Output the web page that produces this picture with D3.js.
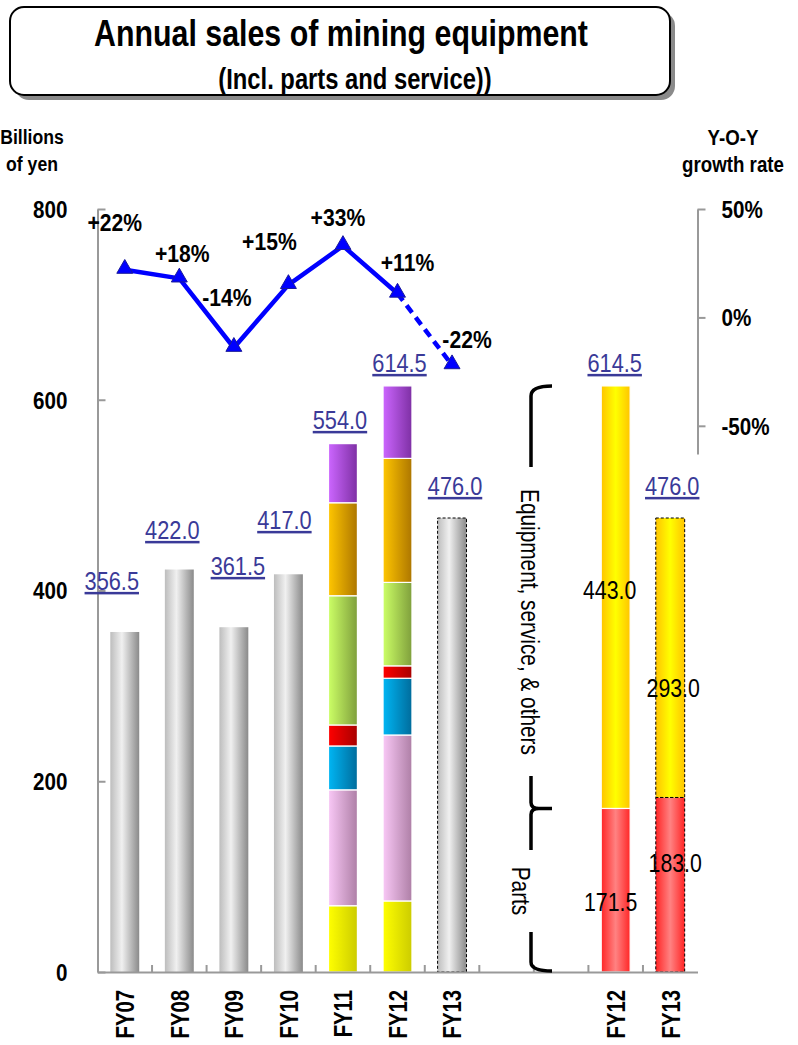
<!DOCTYPE html>
<html>
<head>
<meta charset="utf-8">
<script src="https://cdn.jsdelivr.net/npm/d3@7"></script>
<style>
  html, body { margin: 0; padding: 0; background: #fff; }
  svg { display: block; }
</style>
</head>
<body>
<svg id="chart" width="798" height="1045"></svg>
<script>
// ---------------- DATA ----------------
const categories   = ["FY07", "FY08", "FY09", "FY10", "FY11", "FY12", "FY13", "", "", "FY12", "FY13"];
const totalSales   = [356.5, 422.0, 361.5, 417.0, 554.0, 614.5, 476.0];          // FY07..FY13
const growthRate   = [22, 18, -14, 15, 33, 11, -22];                              // % Y-O-Y
const growthLabels = ["+22%", "+18%", "-14%", "+15%", "+33%", "+11%", "-22%"];
const fy11Segments = [69.5, 121.5, 46.0, 22.0, 135.5, 97.5, 62.0];                // bottom -> top
const fy12Segments = [74.5, 174.0, 59.5, 13.0, 87.5, 130.0, 76.0];
const rightYears   = ["FY12", "FY13"];
const partsSales   = [171.5, 183.0];
const equipSales   = [443.0, 293.0];
const rightTotals  = [614.5, 476.0];
const leftTicks    = [0, 200, 400, 600, 800];
const rightTicks   = [-50, 0, 50];

// ---------------- LAYOUT / STYLE ----------------
const FONT = "'Liberation Sans', Arial, Helvetica, sans-serif";
const segColors = [
  ["#ffff00", "#cccc00"], ["#f9c8f6", "#ae7fa6"], ["#00b6f4", "#006c9c"],
  ["#ff0000", "#a80000"], ["#ccff66", "#7f9f3c"], ["#ffc600", "#ad7600"],
  ["#cc66ff", "#7e30a4"]
];
// label offsets (layout only): [dx, dy] from the anchor mark
const growthOffsets = [[-10, -47], [3, -24], [-7, -50], [-19, -43], [-5, -28], [10, -31], [15, -25]];
const totalLabelY   = [581, 530, 566, 520, 420, 363, 486];
const totalLabelDx  = [-13, -7, 4, -4, -3, 2, 3];

const svg = d3.select("#chart");
const defs = svg.append("defs");

function grad(id, stops) {
  const g = defs.append("linearGradient").attr("id", id)
    .attr("x1", 0).attr("x2", 1).attr("y1", 0).attr("y2", 0);
  stops.forEach(([o, c]) => g.append("stop").attr("offset", o).attr("stop-color", c));
}
grad("gGray", [[0, "#bdbdbd"], [0.4, "#f0f0f0"], [1, "#8a8a8a"]]);
segColors.forEach((c, i) => grad("gSeg" + i, [[0, c[0]], [1, c[1]]]));
grad("gParts", [[0, "#ff2626"], [0.5, "#ff8282"], [1, "#ff2626"]]);
grad("gEquip", [[0, "#ffc400"], [0.5, "#ffff00"], [1, "#ffc400"]]);

function label(g, x, y, text, o = {}) {
  const t = g.append("text")
    .attr("transform", `translate(${x},${y}) rotate(${o.rotate || 0}) scale(${o.sx || 0.85},1)`)
    .attr("text-anchor", o.anchor || "middle")
    .attr("dy", o.dy || "0.35em")
    .style("font-family", FONT)
    .style("font-size", (o.size || 24) + "px")
    .style("font-weight", o.weight || "bold")
    .style("fill", o.fill || "#000")
    .text(text);
  if (o.underline) t.style("text-decoration", "underline");
  return t;
}

// ---------------- SCALES ----------------
const x = d3.scaleBand().domain(d3.range(categories.length)).range([97.5, 697.5]).padding(0);
const y = d3.scaleLinear().domain([0, 800]).range([972, 209]);
const y2 = d3.scaleLinear().domain([-63, 50]).range([454, 209]);
const bw = x.bandwidth() * 0.53;
const xc = i => x(i) + x.bandwidth() / 2;

// ---------------- TITLE BOX ----------------
const tg = svg.append("g");
tg.append("rect").attr("x", 15).attr("y", 12).attr("width", 660).attr("height", 88)
  .attr("rx", 14).attr("fill", "#8a8a8a");
tg.append("rect").attr("x", 10).attr("y", 7).attr("width", 660).attr("height", 88)
  .attr("rx", 14).attr("fill", "#fff").attr("stroke", "#000").attr("stroke-width", 2);
label(tg, 341, 33, "Annual sales of mining equipment", { size: 37, sx: 0.82 });
label(tg, 355, 79, "(Incl. parts and service))", { size: 29, sx: 0.82 });

// axis titles
label(svg, 32, 137, "Billions", { size: 21, sx: 0.84 });
label(svg, 32, 164, "of yen", { size: 21, sx: 0.84 });
label(svg, 733, 137, "Y-O-Y", { size: 22, sx: 0.85 });
label(svg, 733, 164, "growth rate", { size: 22, sx: 0.85 });

// ---------------- BARS ----------------
const bars = svg.append("g");
const stackedIdx = { 4: fy11Segments, 5: fy12Segments };
const stackGen = d3.stack().keys(d3.range(7));

totalSales.forEach((v, i) => {
  if (stackedIdx[i]) {
    const row = {}; stackedIdx[i].forEach((s, k) => row[k] = s);
    const series = stackGen([row]);
    bars.selectAll(null).data(series).join("rect")
      .attr("x", x(i) + (x.bandwidth() - bw) / 2)
      .attr("width", bw)
      .attr("y", d => y(d[0][1]))
      .attr("height", d => y(d[0][0]) - y(d[0][1]))
      .attr("fill", d => `url(#gSeg${d.key})`)
      .attr("stroke", "#fff").attr("stroke-width", 1.2);
  } else {
    const r = bars.append("rect")
      .attr("x", x(i) + (x.bandwidth() - bw) / 2)
      .attr("width", bw)
      .attr("y", y(v))
      .attr("height", y(0) - y(v))
      .attr("fill", "url(#gGray)");
    if (i === 6) r.attr("stroke", "#000").attr("stroke-width", 1).attr("stroke-dasharray", "3,2");
  }
});

// right-side parts / equipment bars
const rightRows = rightYears.map((yr, j) => ({ parts: partsSales[j], equip: equipSales[j] }));
const rStack = d3.stack().keys(["parts", "equip"])(rightRows);
rStack.forEach(s => {
  s.forEach((d, j) => {
    const i = 9 + j;
    const r = bars.append("rect")
      .attr("x", x(i) + (x.bandwidth() - bw) / 2)
      .attr("width", bw)
      .attr("y", y(d[1]))
      .attr("height", y(d[0]) - y(d[1]))
      .attr("fill", s.key === "parts" ? "url(#gParts)" : "url(#gEquip)");
    if (j === 1) r.attr("stroke", "#000").attr("stroke-width", 1).attr("stroke-dasharray", "3,2");
    else r.attr("stroke", "#fff").attr("stroke-width", 1.2);
  });
});

// ---------------- AXES ----------------
const axisColor = "#999";
const gLeft = svg.append("g").attr("transform", `translate(${x.range()[0]},0)`)
  .call(d3.axisLeft(y).tickValues(leftTicks).tickSize(-8).tickSizeOuter(0).tickPadding(0));
gLeft.selectAll("path, line").attr("stroke", axisColor).attr("stroke-width", 2);
gLeft.selectAll("text").attr("x", 0).attr("dy", "0.35em")
  .attr("transform", "translate(-30,0) scale(0.86,1)")
  .style("font-family", FONT).style("font-size", "24px").style("font-weight", "bold").style("fill", "#000");

const gRight = svg.append("g").attr("transform", `translate(${x.range()[1]},0)`)
  .call(d3.axisRight(y2).tickValues(rightTicks).tickSize(8).tickSizeOuter(0).tickPadding(0)
    .tickFormat(d => d + "%"));
gRight.selectAll("path, line").attr("stroke", axisColor).attr("stroke-width", 2);
gRight.selectAll("text").attr("x", 0).attr("dy", "0.35em")
  .attr("transform", "translate(24,0) scale(0.86,1)")
  .style("font-family", FONT).style("font-size", "24px").style("font-weight", "bold").style("fill", "#000");

const gBottom = svg.append("g").attr("transform", `translate(0,${y(0)})`)
  .call(d3.axisBottom(x).tickSize(0).tickSizeOuter(0).tickPadding(0).tickFormat(i => categories[i]));
gBottom.select(".domain").attr("stroke", axisColor).attr("stroke-width", 2);
gBottom.selectAll("text").attr("x", 0).attr("y", 0).attr("dy", "0.36em")
  .attr("text-anchor", "end")
  .attr("transform", "translate(0,18) rotate(-90) scale(0.78,1)")
  .style("font-family", FONT).style("font-size", "26px").style("font-weight", "bold").style("fill", "#000");
gBottom.selectAll(null).data(d3.range(1, categories.length)).join("line")
  .attr("x1", i => x(i)).attr("x2", i => x(i)).attr("y1", 0).attr("y2", -7)
  .attr("stroke", axisColor).attr("stroke-width", 2);

// ---------------- VALUE LABELS ----------------
const vl = svg.append("g");
totalSales.forEach((v, i) => {
  label(vl, xc(i) + totalLabelDx[i], totalLabelY[i], v.toFixed(1),
    { size: 25, weight: "normal", sx: 0.87, fill: "#3a3a98", underline: true });
});
rightTotals.forEach((v, j) => {
  label(vl, xc(9 + j) + (j === 0 ? -1 : 2), totalLabelY[5 + j], v.toFixed(1),
    { size: 25, weight: "normal", sx: 0.87, fill: "#3a3a98", underline: true });
});
const partsLabelY = [902, 863], equipLabelY = [590, 688], rightLabelDx = [[-5, -6], [5, 3]];
partsSales.forEach((v, j) => label(vl, xc(9 + j) + rightLabelDx[j][0], partsLabelY[j], v.toFixed(1),
  { size: 26, weight: "normal", sx: 0.82 }));
equipSales.forEach((v, j) => label(vl, xc(9 + j) + rightLabelDx[j][1], equipLabelY[j], v.toFixed(1),
  { size: 26, weight: "normal", sx: 0.82 }));

// ---------------- GROWTH LINE ----------------
const lg = svg.append("g");
const line = d3.line().x(d => xc(d.i)).y(d => y2(d.v));
const pts = growthRate.map((v, i) => ({ i, v }));
lg.append("path").datum(pts.slice(0, 6)).attr("d", line)
  .attr("fill", "none").attr("stroke", "#0000ff").attr("stroke-width", 4.5).attr("stroke-linejoin", "round");
lg.append("path").datum(pts.slice(5, 7)).attr("d", line)
  .attr("fill", "none").attr("stroke", "#0000ff").attr("stroke-width", 4.5).attr("stroke-dasharray", "9,6");
lg.selectAll(null).data(pts).join("path")
  .attr("d", d3.symbol(d3.symbolTriangle, 110))
  .attr("transform", d => `translate(${xc(d.i)},${y2(d.v) - 1})`)
  .attr("fill", "#0000ff").attr("stroke", "#1a1a9a").attr("stroke-width", 1);
pts.forEach((d, i) => label(lg, xc(d.i) + growthOffsets[i][0], y2(d.v) + growthOffsets[i][1],
  growthLabels[i], { size: 23, sx: 0.92 }));

// ---------------- BRACES ----------------
const bg = svg.append("g").attr("fill", "none").attr("stroke", "#000").attr("stroke-width", 3.5);
const bx = 531, hx = 552;
const yTop = y(rightTotals[0]), yMid = y(partsSales[0]), yBot = y(0);
const p = d3.path();
p.moveTo(hx, yTop); p.quadraticCurveTo(bx, yTop, bx, yTop + 10); p.lineTo(bx, 467);
p.moveTo(bx, 776); p.lineTo(bx, yMid - 6); p.quadraticCurveTo(bx, yMid, bx + 8, yMid); p.lineTo(hx, yMid);
p.moveTo(bx + 8, yMid); p.quadraticCurveTo(bx, yMid, bx, yMid + 6); p.lineTo(bx, 850);
p.moveTo(bx, 932); p.lineTo(bx, yBot - 10); p.quadraticCurveTo(bx, yBot - 1, hx, yBot - 1);
bg.append("path").attr("d", p.toString());
label(svg, 530, 622, "Equipment, service, & others", { size: 26, weight: "normal", sx: 0.8, rotate: 90 });
label(svg, 521, 891, "Parts", { size: 26, weight: "normal", sx: 0.8, rotate: 90 });
</script>
</body>
</html>
